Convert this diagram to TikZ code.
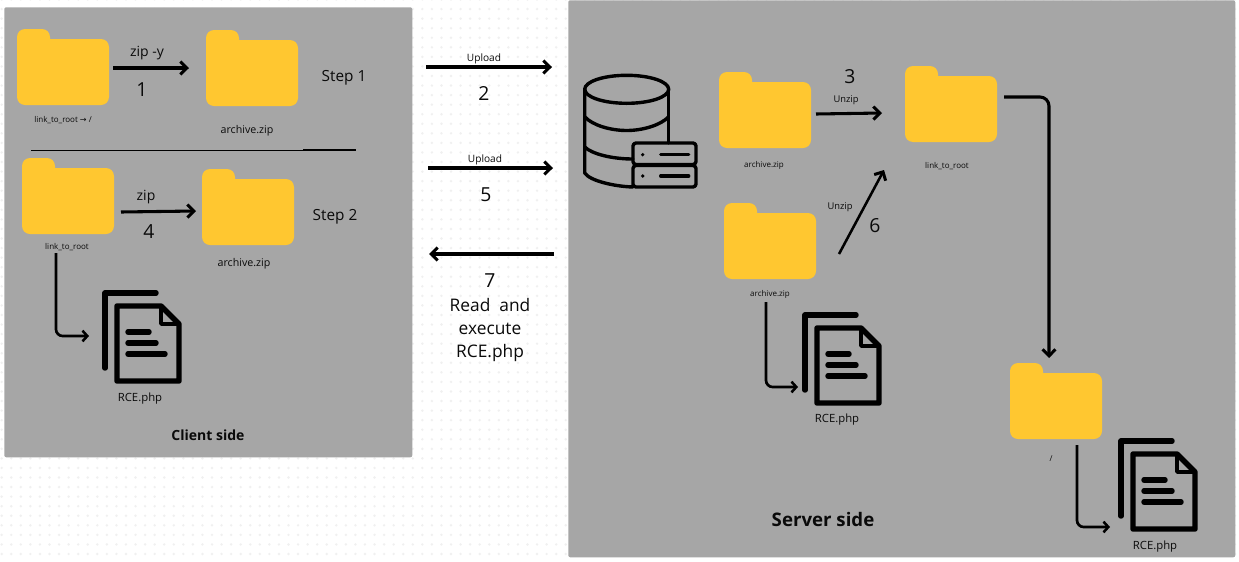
\documentclass[tikz,border=0pt]{standalone}
\usepackage{fontspec}
\setmainfont{Open Sans}
\newfontfamily\symfont{DejaVu Sans}
\usetikzlibrary{arrows.meta,calc}
\definecolor{panelgray}{HTML}{A6A6A6}
\definecolor{foldery}{HTML}{FFC730}
\definecolor{dotgray}{HTML}{F0F0F0}
\definecolor{inkk}{HTML}{000000}
\definecolor{textk}{HTML}{0A0A0A}
\tikzset{
  panel/.style={fill=panelgray,draw=none,rounded corners=1.5pt,inner sep=0pt,anchor=north west},
  arr/.style={draw=inkk,line width=2.3pt,line cap=butt,line join=round,-{Straight Barb[length=4.9pt,width=9.75pt,line width=2.25pt]}},
  slimarr/.style={arr,line width=1.9pt},
  elbow/.style={draw=inkk,line width=2pt,rounded corners=5pt,-{Straight Barb[length=3.6pt,width=8pt,line width=1.9pt]}},
  iconline/.style={draw=inkk,line width=4.1pt,line cap=round,line join=round},
  dbline/.style={draw=inkk,line width=2.55pt,line cap=round,line join=round},
  holder/.style={inner sep=0pt,outer sep=0pt,anchor=north west},
  lab/.style={text=textk,inner sep=0pt,yshift=-1.4pt},
  tinylab/.style={lab,font=\fontsize{6}{7}\selectfont},
  smalllab/.style={lab,font=\fontsize{8}{10}\selectfont},
  rcelab/.style={lab,font=\fontsize{8.5}{10}\selectfont},
  upl/.style={lab,font=\fontsize{7.6}{9}\selectfont},
  unz/.style={lab,font=\fontsize{7}{9}\selectfont},
  med/.style={lab,font=\fontsize{10.5}{12}\selectfont},
  stepl/.style={lab,font=\fontsize{11.5}{13}\selectfont},
  readl/.style={lab,font=\fontsize{13}{15}\selectfont},
  num/.style={lab,yshift=0.7pt,font=\fontsize{14.5}{16}\selectfont},
  side/.style={lab,font=\bfseries\fontsize{10.5}{12}\selectfont},
  bigside/.style={lab,font=\bfseries\fontsize{14}{16}\selectfont},
}
% name, x, y (top-left)
\newcommand{\folderat}[3]{%
  \fill[foldery,rounded corners=6pt] (#2,#3) rectangle ++(33,30);
  \fill[foldery,rounded corners=6pt] (#2,#3+10) rectangle ++(92,66);
  \node[holder,minimum width=69pt,minimum height=57pt] (#1) at (#2,#3) {};
}
\newcommand{\docat}[3]{%
  \begin{scope}[shift={(#2,#3)}]
    \draw[iconline] (3,77) -- (3,2) -- (54,2);
    \draw[iconline] (15,15) -- (59,15) -- (77,33) -- (77,90) -- (15,90) -- cycle;
    \draw[draw=inkk,line width=2.6pt,line join=round] (59,15) -- (59,33) -- (77,33);
    \draw[iconline] (26,41) -- (47,41);
    \draw[iconline] (26,52) -- (54,52);
    \draw[iconline] (26,63) -- (63,63);
  \end{scope}
  \node[holder,minimum width=60pt,minimum height=69pt] (#1) at (#2,#3) {};
}
\begin{document}
\begin{tikzpicture}[x=0.75pt,y=-0.75pt]
\useasboundingbox (0,0) rectangle (1239,561);
\fill[white] (0,0) rectangle (1239,561);
% dotted page background
\foreach \j in {0,...,58}{
  \draw[dotgray,line width=2pt,line cap=round,dash pattern=on 0pt off 7.17pt] (1.7,-0.5+9.56*\j) -- (1239,-0.5+9.56*\j);
}
% panels
\node[panel,minimum width=306pt,minimum height=337.5pt] (client) at (4,7) {};
\node[panel,minimum width=500.25pt,minimum height=417.75pt] (server) at (568,0) {};

% client, step 1
\folderat{f1}{17}{29}
\folderat{f2}{206}{30}
\draw[arr] ($(f1.east)+(4,1)$) -- ($(f2.west)+(-17,0)$);
\node[med] (tzipy) at (147,51) {zip -y};
\node[num] (t1) at (142,89) {1};
\node[tinylab] (lf1) at (63,118) {link\_to\_root {\symfont→} /};
\node[smalllab] (lf2) at (247,129) {archive.zip};
\node[stepl] (tstep1) at (344,76) {Step 1};
\coordinate (sepa) at (31,150.5);
\coordinate (sepm) at (303,150.5);
\coordinate (sepn) at (303,150);
\coordinate (sepb) at (356,150);
\draw[draw=inkk,line width=0.75pt] (sepa) -- (sepm);
\draw[draw=inkk,line width=1pt] (sepn) -- (sepb);

% client, step 2
\folderat{f3}{22}{158}
\folderat{f4}{202}{169}
\draw[arr] ($(f3.east)+(7,16)$) -- ($(f4.west)+(-6,4)$);
\node[med] (tzip) at (146,195) {zip};
\node[num] (t4) at (149,231) {4};
\node[tinylab] (lf3) at (67,245) {link\_to\_root};
\node[smalllab] (lf4) at (244,262) {archive.zip};
\node[stepl] (tstep2) at (335,215) {Step 2};
\docat{d1}{102}{291}
\coordinate (e1) at (56,253);
\draw[elbow] (e1) |- ($(d1.west)+(-13,-1)$);
\node[rcelab] (ld1) at (140,397) {RCE.php};
\node[side] (tclient) at (208,433) {Client side};

% middle arrows
\coordinate (a2) at (426,67); \coordinate (b2) at (552,67);
\draw[arr] (a2) -- (b2);
\node[upl] (tu1) at (484,57) {Upload};
\node[num] (t2) at (484,93) {2};
\coordinate (a5) at (428,168); \coordinate (b5) at (553,168);
\draw[arr] (a5) -- (b5);
\node[upl] (tu2) at (485,158) {Upload};
\node[num] (t5) at (486,194) {5};
\coordinate (a7) at (554,254); \coordinate (b7) at (429,254);
\draw[arr] (a7) -- (b7);
\node[num] (t7) at (490,280) {7};
\node[readl] (tr1) at (490,303) {Read\ \ and};
\node[readl] (tr2) at (490,327) {execute};
\node[readl] (tr3) at (490,351) {RCE.php};

% database icon
\draw[dbline] (626.7,89.3) ellipse (31.5pt and 10.5pt);
\draw[dbline] (584.7,89.3) -- (584.7,173) .. controls (590,181) and (615,186.5) .. (633,187);
\draw[dbline] (668.7,89.3) -- (668.7,143);
\draw[dbline] (584.7,116.7) .. controls (592,125) and (610,130.5) .. (626.7,130.5) .. controls (643,130.5) and (661,125) .. (668.7,116.7);
\draw[dbline] (584.7,147) .. controls (592,154) and (612,159) .. (633,159);
\draw[dbline,rounded corners=2.25pt] (633,143) rectangle (696,164.5);
\draw[dbline,rounded corners=2.25pt] (633,165.5) rectangle (696,187);
\fill[inkk] (642.7,154.7) circle (1.35pt);
\fill[inkk] (642.7,176) circle (1.35pt);
\draw[dbline] (660.7,154.7) -- (688.7,154.7);
\draw[dbline] (660.7,176) -- (688.7,176);

% server
\folderat{f5}{719}{72}
\folderat{f6}{905}{66}
\draw[arr] ($(f5.east)+(5,4)$) -- ($(f6.west)+(-23,9)$);
\node[num] (t3) at (850,76) {3};
\node[unz] (tuz1) at (846,98) {Unzip};
\node[tinylab] (lf5) at (764,164) {archive.zip};
\node[tinylab] (lf6) at (947,164) {link\_to\_root};

\folderat{f7}{724}{203}
\draw[slimarr] ($(f7.east)+(23,13)$) -- ($(f6.south west)+(-21,28)$);
\node[unz] (tuz2) at (840,205) {Unzip};
\node[num] (t6) at (875,225) {6};
\node[tinylab] (lf7) at (770,293) {archive.zip};
\docat{d2}{802}{313}
\coordinate (e2) at (766,302);
\draw[elbow] (e2) |- ($(d2.west)+(-4,28)$);
\node[rcelab] (ld2) at (837,418) {RCE.php};

\folderat{f8}{1010}{363}
\coordinate (e3) at (1004,97);
\draw[arr,rounded corners=6.75pt] (e3) -| ($(f8.north)+(-7,-5)$);
\node[tinylab] (lf8) at (1051,457) {/};
\docat{d3}{1118}{439}
\coordinate (e4) at (1077,445);
\draw[elbow] (e4) |- ($(d3.west)+(-8,42)$);
\node[rcelab] (ld3) at (1155,545) {RCE.php};
\node[bigside] (tserver) at (823,518) {Server side};
\end{tikzpicture}
\end{document}
